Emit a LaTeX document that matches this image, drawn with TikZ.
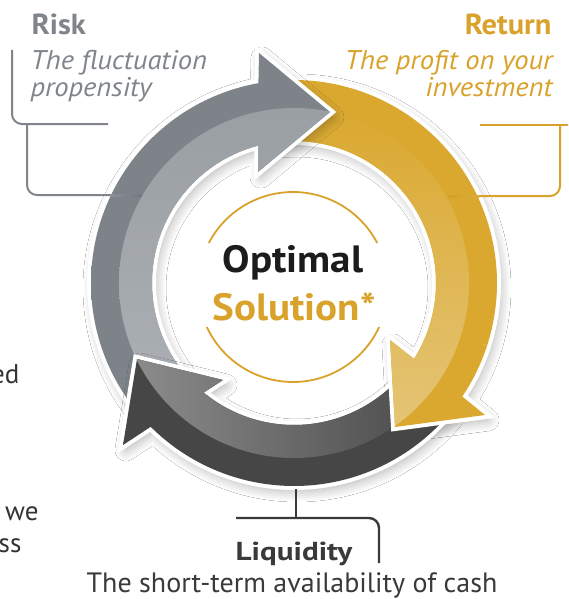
\documentclass[tikz,border=0pt]{standalone}
\usepackage{fontspec}
\usepackage{graphicx}
\setmainfont{PT Sans}
\usetikzlibrary{shadows.blur}
\definecolor{goldtxt}{HTML}{D9A22A}
\definecolor{graytxt}{HTML}{80858B}
\definecolor{darktxt}{HTML}{3A3A3A}
\definecolor{bodytxt}{HTML}{333333}
\definecolor{optblack}{HTML}{1C1C1C}
\definecolor{gA}{HTML}{DAA82F}
\definecolor{gB}{HTML}{D2A026}
\definecolor{gC}{HTML}{B5841F}
\definecolor{gM}{HTML}{E0BC62}
\definecolor{gL}{HTML}{E5C77C}
\definecolor{grA}{HTML}{7E838A}
\definecolor{grB}{HTML}{73787F}
\definecolor{grC}{HTML}{60656C}
\definecolor{grL}{HTML}{A4A9AE}
\definecolor{dA}{HTML}{464646}
\definecolor{dC}{HTML}{383838}
\pgfdeclareradialshading{goldring}{\pgfpoint{0bp}{0bp}}{color(0bp)=(gA); color(35bp)=(gA); color(38bp)=(gB); color(40.6bp)=(gC); color(50bp)=(gC)}
\pgfdeclareradialshading{grayring}{\pgfpoint{0bp}{0bp}}{color(0bp)=(grA); color(35bp)=(grA); color(38bp)=(grB); color(40.6bp)=(grC); color(50bp)=(grC)}
\pgfdeclareradialshading{darkring}{\pgfpoint{0bp}{0bp}}{color(0bp)=(dA); color(35bp)=(dA); color(40.6bp)=(dC); color(50bp)=(dC)}
\def\Rin{142}\def\Rout{203}\def\Rmid{175}
\def\goldpath{plot[domain=-95:34,samples=70,variable=\t] (\t:\Rout) -- (191,132) -- (101,144) -- (96,57) -- plot[domain=32.3:-95,samples=70,variable=\t] (\t:\Rin) -- cycle}
\def\graypath{plot[domain=140:259.9,samples=70,variable=\t] (\t:\Rout) -- (-35,-230) -- (36,-171) -- (-36,-111) -- plot[domain=255.5:140,samples=70,variable=\t] (\t:\Rin) -- cycle}
\def\darkpath{plot[domain=40:134.9,samples=70,variable=\t] (\t:\Rout) -- (-171,162) -- (-157,76) -- (-71,97) -- plot[domain=129.5:40,samples=70,variable=\t] (\t:\Rin) -- cycle}
\newcommand\xs[2]{\scalebox{#1}[1]{#2}}
\begin{document}
\begin{tikzpicture}[x=1pt,y=-1pt,
  arrowshadow/.style={blur shadow={shadow xshift=3pt,shadow yshift=-5pt,shadow blur radius=11pt,shadow blur steps=12,shadow opacity=32}},
  whiteline/.style={draw=white,line width=8pt,line join=miter,miter limit=3},
  riskline/.style={draw=graytxt,line width=2pt,rounded corners=10pt},
  goldline/.style={draw=goldtxt,line width=2pt,rounded corners=10pt},
  darkline/.style={draw=darktxt,line width=2.4pt,rounded corners=10pt},
  title/.style={font=\fontsize{29}{31}\selectfont\bfseries},
  desc/.style={font=\fontsize{27}{29}\selectfont\itshape},
  centre/.style={font=\fontsize{38}{42}\selectfont\bfseries, anchor=base},
  body/.style={font=\fontsize{27}{30}\selectfont, text=bodytxt},
  goldinner/.style={top color=gA, middle color=gM, bottom color=gL}]
\path[use as bounding box] (0,0) rectangle (568,599);
\clip (0,0) rectangle (568,599);
\fill[white] (0,0) rectangle (568,599);
\begin{scope}[shift={(294,283)}]
  % gold arrow
  \path[arrowshadow] \goldpath;
  \draw[whiteline] \goldpath;
  \begin{scope}\clip \goldpath;
    \shade[shading=goldring] (-250,-250) rectangle (250,250);
    \shade[goldinner] (0,0) circle[radius=\Rmid];
  \end{scope}
  % gray arrow
  \path[arrowshadow] \graypath;
  \draw[whiteline] \graypath;
  \begin{scope}\clip \graypath;
    \shade[shading=grayring] (-250,-250) rectangle (250,250);
    \shade[top color=grL!94!black, bottom color=grL!88!white] (0,0) circle[radius=\Rmid];
  \end{scope}
  % dark arrow
  \path[arrowshadow] \darkpath;
  \draw[whiteline] \darkpath;
  \begin{scope}\clip \darkpath;
    \shade[shading=darkring] (-250,-250) rectangle (250,250);
    \shade[left color=black!44, right color=black!74] (0,0) circle[radius=\Rmid];
  \end{scope}
  % gold head again, over the dark tail
  \begin{scope}
    \clip (0,0) -- (18:330) -- (45:330) -- (72:330) -- cycle;
    \draw[whiteline] \goldpath;
    \begin{scope}\clip \goldpath;
      \shade[shading=goldring] (-250,-250) rectangle (250,250);
      \shade[goldinner] (0,0) circle[radius=\Rmid];
    \end{scope}
  \end{scope}
\end{scope}
% centre circle
\begin{scope}[shift={(293,287)}]
  \draw[goldtxt,line width=1.8pt] plot[domain=-152.4:-27.6,samples=60,variable=\t] (\t:95);
  \draw[goldtxt,line width=1.8pt] plot[domain=24.9:155.1,samples=60,variable=\t] (\t:95);
\end{scope}
\node[centre, text=optblack] (opt) at (293,272) {\xs{1.08}{Optimal}};
\node[centre, text=goldtxt] (sol) at (294,320) {\xs{1.08}{Solution*}};
% Risk
\node[title, text=graytxt, anchor=base west] (risk) at (28,35) {\xs{1.05}{Risk}};
\node[desc, text=graytxt, anchor=base west] (riskd1) at (27,70) {\xs{1.06}{The fluctuation}};
\node[desc, text=graytxt, anchor=base west] (riskd2) at (27,97) {\xs{1.06}{propensity}};
\coordinate (rk1) at (12,50); \coordinate (rk2) at (12,124); \coordinate (rk3) at (108,124);
\coordinate (rk4) at (27,124); \coordinate (rk5) at (27,195); \coordinate (rk6) at (111,195);
\draw[riskline] (rk1) -- (rk2) -- (rk3);
\draw[riskline] (rk4) -- (rk5) -- (rk6);
\shade[left color=graytxt!90!white, right color=grB] (110,194) rectangle (142,196);
% Return
\node[title, text=goldtxt, anchor=base east] (ret) at (555,35) {\xs{1.05}{Return}};
\node[desc, text=goldtxt, anchor=base east] (retd1) at (556,70) {\xs{1.06}{The profit on your}};
\node[desc, text=goldtxt, anchor=base east] (retd2) at (556,97) {\xs{1.06}{investment}};
\coordinate (rt1) at (480,125); \coordinate (rt2) at (570,125);
\coordinate (rt3) at (560,125); \coordinate (rt4) at (560,196); \coordinate (rt5) at (478,196);
\draw[goldline] (rt1) -- (rt2);
\draw[goldline] (rt3) -- (rt4) -- (rt5);
\shade[left color=gB, right color=goldtxt!90!white] (448,195) rectangle (479,197);
% Liquidity
\node[font=\fontsize{26}{28}\selectfont\bfseries, text=darktxt, anchor=base] (liq) at (294,560) {\xs{1.2}{Liquidity}};
\node[font=\fontsize{28}{31}\selectfont, text=darktxt, anchor=base] (liqd) at (292,592) {The short-term availability of cash};
\coordinate (lq1) at (296,489); \coordinate (lq2) at (296,518);
\coordinate (lq3) at (236,518); \coordinate (lq4) at (379,518); \coordinate (lq5) at (379,563);
\draw[darkline] (lq1) -- (lq2);
\draw[darkline] (lq3) -- (lq4) -- (lq5);
% cut-off body text at the left edge
\node[body, anchor=base east] (b1) at (23,383) {ed};
\node[body, anchor=base east] (b2) at (42,520) {e we};
\node[body, anchor=base east] (b3) at (25,552) {ess};
\end{tikzpicture}
\end{document}
